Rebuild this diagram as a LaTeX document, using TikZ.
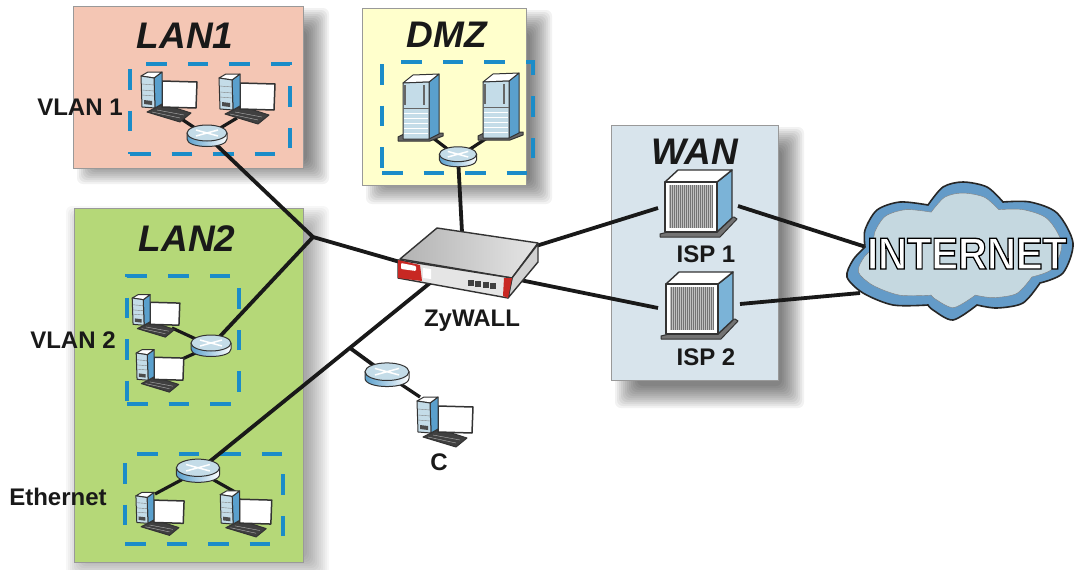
\documentclass[tikz,border=0pt]{standalone}
\usepackage{fontspec}
\setmainfont{Liberation Sans}
\usepackage{tikz}
\usetikzlibrary{calc,positioning}
\definecolor{LanRed}{RGB}{244,198,180}
\definecolor{LanGreen}{RGB}{181,216,120}
\definecolor{DmzYellow}{RGB}{255,255,204}
\definecolor{WanBlue}{RGB}{216,228,236}
\definecolor{DashBlue}{RGB}{27,140,200}
\definecolor{DevBlue}{RGB}{90,160,205}
\definecolor{CloudDark}{RGB}{100,155,200}
\definecolor{CloudLight}{RGB}{197,216,224}
\definecolor{PanelBlue}{RGB}{196,220,232}
\definecolor{ZyRed}{RGB}{200,40,35}
\newcommand{\zoneshadow}[5]{\foreach \b in {0,2,...,22}{\fill[black,opacity=#5,rounded corners=6pt] (#1+4+\b,#2+2+\b) rectangle (#3+26-\b,#4+24-\b);}}
\newcommand{\cloudoutline}{plot[smooth] coordinates {(865,247) (865,230) (877,210) (900,202) (928,205)}
	--plot[smooth] coordinates {(928,205) (943,187) (963,182) (987,187) (1003,202)}
	--plot[smooth] coordinates {(1003,202) (1030,202) (1057,213) (1073,243) (1063,273) (1040,283)}
	--plot[smooth] coordinates {(1040,283) (1023,303) (997,308) (977,305)}
	--plot[smooth] coordinates {(977,305) (953,320) (933,310) (928,305)}
	--plot[smooth] coordinates {(928,305) (893,305) (863,293) (847,277) (853,260) (865,247)} -- cycle}

\begin{document}
\begin{tikzpicture} [x=1pt,y=-1pt,
	   every node/.style={font=\fontsize{24}{24}\selectfont\bfseries, text=black!90, inner sep=0pt},
	   zone/.style n args = {3}{rectangle, minimum width=#1, minimum height=#2, fill=#3, draw=black!40, thin},
	   dashzone/.style 2 args = {rectangle, minimum width=#1, minimum height=#2, draw=DashBlue,
	                             line width=3.2pt, dash pattern=on 20.5pt off 21pt},
	   zonetitle/.style = {anchor=base, font=\fontsize{37}{37}\selectfont\bfseries\itshape},
	   caption/.style = {anchor=base},
	   mainlink/.style = {line width=3.8pt, black!90},
	   sublink/.style = {line width=3.2pt, black!90},
	   devline/.style = {draw=black!80, line width=1pt, line join=round},
	   computer/.pic = {
	     \draw[devline, fill=black!75] (-22,16) -- (-6,8) -- (22,17) -- (11,26) -- cycle;
	     \draw[black!30, thin] (-17,16) -- (11,22) (-12,14) -- (15,19);
	     \draw[devline, line width=1.5pt, fill=white] (-7,-15) -- (28,-14) -- (27,12) -- (-7,11) -- cycle;
	     \draw[devline, fill=DevBlue] (-15,-18) -- (-7,-24) -- (-7,8) -- (-14,12) -- cycle;
	     \draw[devline, fill=white] (-28,-20) -- (-21,-24) -- (-7,-24) -- (-15,-18) -- cycle;
	     \draw[devline, fill=PanelBlue] (-28,-20) -- (-15,-18) -- (-14,12) -- (-27,11) -- cycle;
	     \draw[black!50, thin] (-27,-12) -- (-15,-11) (-27,-6) -- (-15,-5) (-27,-1) -- (-15,0);
	     \fill[black!70] (-25,4) -- (-17,5) -- (-17,9) -- (-25,8) -- cycle;
	   },
	   router/.pic = {
	     \draw[devline, left color=DevBlue, right color=white]
	       (-20,-3) -- (-20,3) .. controls (-20,13) and (20,13) .. (20,3) -- (20,-3) -- cycle;
	     \draw[devline, fill=PanelBlue] (0,-3) ellipse (20 and 8);
	     \draw[white, line width=1.5pt] (-11,-6) -- (11,0) (11,-6) -- (-11,0);
	   },
	   server/.pic = {
	     \draw[devline, fill=black!60] (-22,30) -- (-16,27) -- (23,26) -- (23,29) -- (10,34) -- (-22,34) -- cycle;
	     \draw[devline, fill=DevBlue] (9,-25) -- (19,-33) -- (19,27) -- (9,32) -- cycle;
	     \draw[devline, fill=white] (-17,-24) -- (-7,-32) -- (19,-33) -- (9,-25) -- cycle;
	     \draw[devline, fill=PanelBlue] (-17,-24) -- (9,-25) -- (9,32) -- (-17,32) -- cycle;
	     \draw[black!60, line width=1.2pt] (-15,-22) -- (-15,-2) (4,-22) -- (4,-2);
	     \draw[black!60, line width=1pt] (-17,1) -- (9,1);
	     \foreach \y in {6,11,16,21,26} \draw[white, line width=1pt] (-16,\y) -- (8,\y);
	   },
	   ispbox/.pic = {
	     \draw[devline, fill=black!55] (-38,31) -- (-26,28) -- (36,14) -- (39,16) -- (22,34) -- (-38,34) -- cycle;
	     \draw[devline, line width=1.4pt, fill=DevBlue!80] (19,-21) -- (34,-33) -- (34,15) -- (19,29) -- cycle;
	     \draw[devline, line width=1.4pt, fill=white] (-33,-21) -- (-20,-33) -- (34,-33) -- (19,-21) -- cycle;
	     \draw[devline, line width=1.4pt, fill=white] (-33,-21) -- (19,-21) -- (19,29) -- (-33,29) -- cycle;
	     \fill[black!25] (-29,-18) rectangle (15,25);
	     \foreach \x in {-28,-26,...,14} \draw[black!55, line width=.9pt] (\x,-18) -- (\x,25);
	   }]
	\useasboundingbox (0,0) rectangle (1084,570);
	\fill[white] (0,0) rectangle (1084,570);

	%% Zones
	\zoneshadow{73}{6}{303}{160}{.05}
	\zoneshadow{362}{8}{526}{180}{.05}
	\zoneshadow{62}{204}{303}{556}{.03}
	\zoneshadow{611}{125}{778}{384}{.05}
	\node [zone={230pt}{162pt}{LanRed}] (lan1) at (188,87) {};
	\node [zone={164pt}{177pt}{DmzYellow}] (dmz) at (444,96.5) {};
	\node [zone={229pt}{354pt}{LanGreen}] (lan2) at (188.5,385) {};
	\node [zone={167pt}{255pt}{WanBlue}] (wan) at (694.5,252.5) {};

	%% Dashed groups
	\node [dashzone={160pt}{90pt}] (vlan1) at (210,109) {};
	\node [dashzone={151pt}{111pt}] (dmzgroup) at (457.5,117.5) {};
	\node [dashzone={112pt}{128pt}] (vlan2) at (183,340) {};
	\node [dashzone={158pt}{90pt}] (ethgroup) at (204,499) {};

	%% Reference points for the links
	\coordinate (hub) at (313,237);
	\coordinate (tee) at (350,348);
	\coordinate (zywest) at (400,262);
	\coordinate (zynorth) at (462,232);
	\coordinate (zyeast) at (536,246);
	\coordinate (zysouth) at (520,280);
	\coordinate (zyfront) at (430,283);
	\coordinate (rtA) at (207,136);
	\coordinate (rtB) at (458,157);
	\coordinate (rtC) at (211,346);
	\coordinate (rtD) at (198,471);
	\coordinate (rtE) at (387,375);
	\coordinate (pcA) at (180,118);
	\coordinate (pcB) at (237,118);
	\coordinate (srvA) at (433,138);
	\coordinate (srvB) at (487,138);
	\coordinate (pcC) at (172,328);
	\coordinate (pcD) at (180,360);
	\coordinate (pcE) at (155,494);
	\coordinate (pcF) at (235,492);
	\coordinate (pcG) at (420,397);
	\coordinate (ispAw) at (658,208);
	\coordinate (ispAe) at (738,206);
	\coordinate (ispBw) at (658,308);
	\coordinate (ispBe) at (740,304);
	\coordinate (cloudA) at (866,247);
	\coordinate (cloudB) at (860,293);

	%% Simple paths
	\draw[mainlink] (rtA) -- (hub);
	\draw[mainlink] (rtC) -- (hub);
	\draw[mainlink] (hub) -- (zywest);
	\draw[mainlink] (rtD) -- (zyfront);
	\draw[mainlink] (tee) -- (rtE);
	\draw[mainlink] (rtB) -- (zynorth);
	\draw[mainlink] (zyeast) -- (ispAw);
	\draw[mainlink] (zysouth) -- (ispBw);
	\draw[mainlink] (ispAe) -- (cloudA);
	\draw[mainlink] (ispBe) -- (cloudB);
	\draw[sublink] (rtA) -- (pcA);
	\draw[sublink] (rtA) -- (pcB);
	\draw[sublink] (rtB) -- (srvA);
	\draw[sublink] (rtB) -- (srvB);
	\draw[sublink] (rtC) -- (pcC);
	\draw[sublink] (rtC) -- (pcD);
	\draw[sublink] (rtD) -- (pcE);
	\draw[sublink] (rtD) -- (pcF);
	\draw[sublink] (rtE) -- (pcG);

	%% Devices
	\pic at (169,96) {computer};
	\pic at (247,98) {computer};
	\pic at (420,107) {server};
	\pic at (500,106) {server};
	\pic [scale=.85] at (156,315) {computer};
	\pic [scale=.85] at (160,370) {computer};
	\pic [scale=.86] at (160,513) {computer};
	\pic [scale=.92] at (246,513) {computer};
	\pic at (445,421) {computer};
	\pic at (rtA) {router};
	\pic [scale=.93] at (rtB) {router};
	\pic at (rtC) {router};
	\pic [scale=1.08] at (rtD) {router};
	\pic [scale=1.1] at (rtE) {router};
	\pic at (698,203) {ispbox};
	\pic at (699,305) {ispbox};

	%% ZyWALL
	\draw[devline, line width=1.4pt, left color=black!30, right color=black!10] (400,259) -- (437,228) -- (538,243) -- (512,278) -- cycle;
	\draw[devline, line width=1.4pt, fill=black!18] (512,278) -- (538,244) -- (538,262) -- (508,298) -- cycle;
	\draw[devline, line width=1.4pt, fill=black!10] (398,260) -- (512,278) -- (508,298) -- (398,278) -- cycle;
	\fill[ZyRed] (398,260) -- (420,265) -- (422,281) -- (398,278) -- cycle;
	\fill[ZyRed] (504,278) -- (512,278) -- (508,298) -- (503,296) -- cycle;
	\fill[white, rounded corners=1pt] (401,263) -- (416,266) -- (416,271) -- (401,269) -- cycle;
	\fill[white] (423,268) -- (431,269) -- (431,279) -- (423,278) -- cycle;
	\foreach \x/\y in {467.5/279.5,475/280.5,482.5/281.7,490/283} \fill[black!75] (\x,\y) rectangle (\x+6,\y+6);

	%% Cloud
	\draw[line width=1.6pt, draw=black!85, fill=CloudDark] \cloudoutline;
	\begin{scope}[shift={(960,247)},xscale=.9,yscale=.83,shift={(-960,-247)}]
		\draw[thin, draw=black!50, fill=CloudLight] \cloudoutline;
	\end{scope}

	%% Labels
	\node [zonetitle] (lan1title) at (185,48) {LAN1};
	\node [zonetitle] (dmztitle) at (447,47) {DMZ};
	\node [zonetitle] (lan2title) at (187,251) {LAN2};
	\node [zonetitle] (wantitle) at (695,164) {WAN};
	\node [caption] (vlan1label) at (80,115) {VLAN 1};
	\node [caption] (vlan2label) at (73,348) {VLAN 2};
	\node [caption] (ethlabel) at (58,505) {Ethernet};
	\node [caption] (zylabel) at (472,326) {ZyWALL};
	\node [caption] (isp1label) at (706,262) {ISP 1};
	\node [caption] (isp2label) at (706,365) {ISP 2};
	\node [caption] (clabel) at (439,470) {C};
	\node [anchor=base, text=white, font=\fontsize{40}{40}\selectfont\bfseries] (cloudlabel) at (967,269)
	      {\scalebox{1}[1.12]{\special{pdf:code 2 Tr 1.2 w 0 0 0 RG}INTERNET}};
\end{tikzpicture}
\end{document}
